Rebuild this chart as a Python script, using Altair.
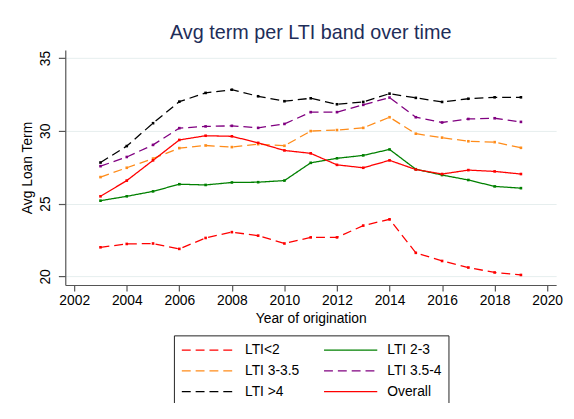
import altair as alt
import pandas as pd

years = list(range(2003, 2020))
series_names = ["LTI<2", "LTI 2-3", "LTI 3-3.5", "LTI 3.5-4", "LTI >4", "Overall"]
lti_lt2 = [22.0, 22.23, 22.26, 21.89, 22.64, 23.04, 22.8, 22.26, 22.68, 22.68, 23.49, 23.92, 21.62, 21.06, 20.61, 20.27, 20.1]
lti_2_3 = [25.2, 25.5, 25.84, 26.33, 26.28, 26.45, 26.47, 26.58, 27.8, 28.11, 28.31, 28.72, 27.36, 26.96, 26.62, 26.18, 26.06]
lti_3_35 = [26.82, 27.46, 28.09, 28.81, 28.99, 28.88, 29.08, 28.97, 29.98, 30.05, 30.2, 30.93, 29.8, 29.53, 29.28, 29.22, 28.83]
lti_35_4 = [27.57, 28.2, 29.03, 30.18, 30.3, 30.34, 30.2, 30.47, 31.28, 31.28, 31.78, 32.28, 30.93, 30.57, 30.81, 30.86, 30.61]
lti_gt4 = [27.82, 28.95, 30.52, 32.0, 32.6, 32.82, 32.37, 32.03, 32.23, 31.82, 31.98, 32.55, 32.26, 31.98, 32.2, 32.3, 32.3]
overall = [25.5, 26.58, 27.97, 29.37, 29.66, 29.62, 29.17, 28.65, 28.45, 27.66, 27.46, 27.97, 27.34, 27.03, 27.3, 27.21, 27.03]
series_values = [lti_lt2, lti_2_3, lti_3_35, lti_35_4, lti_gt4, overall]
series_colors = ["#ff0000", "#008000", "#ff8c1a", "#800080", "#000000", "#ff0000"]
series_dashes = [[9, 5], [1, 0], [9, 5], [9, 5], [9, 5], [1, 0]]
x_ticks = [2002, 2004, 2006, 2008, 2010, 2012, 2014, 2016, 2018, 2020]
y_ticks = [20, 25, 30, 35]

rows = []
for name, vals in zip(series_names, series_values):
    for yr, v in zip(years, vals):
        rows.append({"year": yr, "term": v, "band": name})
df = pd.DataFrame(rows)

FONT = "Liberation Sans"


def make_legend():
    return alt.Legend(orient="none", legendX=110, legendY=289,
                      direction="horizontal", columns=2,
                      symbolType="M-1,0L6.7,0", symbolSize=196,
                      symbolStrokeWidth=1.3,
                      labelFontSize=14, labelFont=FONT, labelColor="black",
                      strokeColor="#222222", padding=7,
                      rowPadding=6, columnPadding=22,
                      labelOffset=49, title=None)


chart = alt.Chart(df).mark_line(
    strokeWidth=1.3,
    point=alt.OverlayMarkDef(shape="square", size=7, filled=True),
).encode(
    x=alt.X("year:Q",
            scale=alt.Scale(domain=[2001.66, 2020.34], nice=False, zero=False),
            axis=alt.Axis(values=x_ticks, format="d", title="Year of origination",
                          grid=False, tickSize=6, labelPadding=3, titlePadding=4)),
    y=alt.Y("term:Q",
            scale=alt.Scale(domain=[19.41, 35.55], nice=False, zero=False),
            axis=alt.Axis(values=y_ticks, title="Avg Loan Term", grid=True,
                          labelAngle=270, labelAlign="center", labelBaseline="bottom",
                          tickSize=7, labelPadding=6, titlePadding=4)),
    color=alt.Color("band:N",
                    scale=alt.Scale(domain=series_names, range=series_colors),
                    sort=series_names,
                    legend=make_legend()),
    strokeDash=alt.StrokeDash("band:N",
                              scale=alt.Scale(domain=series_names, range=series_dashes),
                              sort=series_names,
                              legend=make_legend()),
).properties(
    width=497,
    height=238,
    title=alt.TitleParams("Avg term per LTI band over time", anchor="middle",
                          fontSize=20, font=FONT, fontWeight="normal",
                          color="#1e2d59", baseline="alphabetic", offset=-9),
    padding={"left": 58, "top": 40, "right": 10, "bottom": 117},
    autosize=alt.AutoSizeParams(type="none"),
).configure_view(
    stroke=None
).configure_axis(
    labelFont=FONT, titleFont=FONT, labelFontSize=14, titleFontSize=14,
    labelColor="black", titleColor="black", titleFontWeight="normal",
    domainColor="#555555", tickColor="#555555", gridColor="#e6eeee",
    domainWidth=1.2, tickWidth=1.2,
)

chart.save("out.html", embed_options={"renderer": "svg", "actions": False})
